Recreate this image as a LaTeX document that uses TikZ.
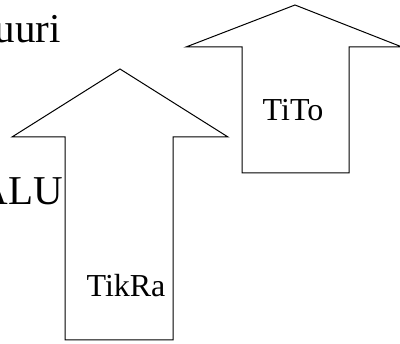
\documentclass[tikz,border=0pt]{standalone}
\usepackage{fontspec}
\setmainfont{Liberation Serif}
\begin{document}
\begin{tikzpicture}[x=1pt,y=-1pt,
  blockarrow/.style={draw=black,line width=1pt,line join=miter},
  bigtext/.style={font=\fontsize{41}{41}\selectfont,inner sep=0pt},
  midtext/.style={font=\fontsize{32}{32}\selectfont,inner sep=0pt}]
  \useasboundingbox (0,0) rectangle (400,344);
  \begin{scope}
    \clip (0,0) rectangle (400,344);
    % large upward arrow
    \draw[blockarrow] (120,69) -- (228,137) -- (173,137) -- (173,340)
      -- (65,340) -- (65,137) -- (12,137) -- cycle;
    % small upward arrow
    \draw[blockarrow] (295,5) -- (402,47) -- (349,47) -- (349,173)
      -- (242,173) -- (242,47) -- (186,47) -- cycle;
  \end{scope}
  \node[bigtext,anchor=base east] (uuri) at (61,43) {uuri};
  \node[bigtext,anchor=base east] (alu) at (63,205) {ALU};
  \node[midtext,anchor=base] (tito) at (293,121) {TiTo};
  \node[midtext,anchor=base] (tikra) at (126,297) {TikRa};
\end{tikzpicture}
\end{document}
